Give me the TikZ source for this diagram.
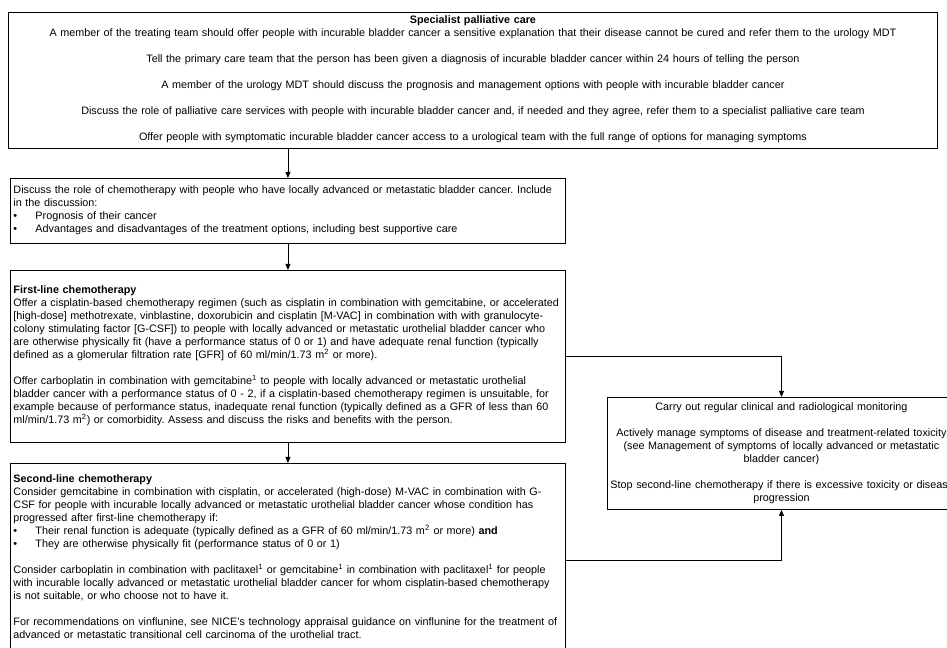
\documentclass[tikz,border=0pt]{standalone}
\usepackage{fontspec}
\setmainfont{Liberation Sans}
\usetikzlibrary{arrows.meta}
\newcommand{\bul}{\makebox[16.5pt][l]{\textbullet}}
\newcommand{\sqm}{m\textsuperscript{2}}
\begin{document}
\begin{tikzpicture}[x=0.75pt, y=-0.75pt, >={Triangle[length=4.5pt,width=3.75pt]},
  box/.style={draw, line width=0.7pt, anchor=north west, inner xsep=2.25pt, inner ysep=0pt,
    font=\fontsize{8.1pt}{9.75pt}\selectfont\frenchspacing},
  leftbox/.style={box, text width=411.75pt, align=left},
  midbox/.style={box, align=center}]
\useasboundingbox (0,0) rectangle (947,648);
\node[midbox, text width=692.25pt, text height=8.25pt, text depth=93.75pt] (palliative) at (8,12) {\textbf{Specialist palliative care}\\
A member of the treating team should offer people with incurable bladder cancer a sensitive explanation that their disease cannot be cured and refer them to the urology MDT\\[9.75pt]
Tell the primary care team that the person has been given a diagnosis of incurable bladder cancer within 24 hours of telling the person\\[9.75pt]
A member of the urology MDT should discuss the prognosis and management options with people with incurable bladder cancer\\[9.75pt]
Discuss the role of palliative care services with people with incurable bladder cancer and, if needed and they agree, refer them to a specialist palliative care team\\[9.75pt]
Offer people with symptomatic incurable bladder cancer access to a urological team with the full range of options for managing symptoms};
\node[leftbox, text height=11.25pt, text depth=37.5pt] (discuss) at (10,178) {Discuss the role of chemotherapy with people who have locally advanced or metastatic bladder cancer. Include\\
in the discussion:\\
\bul Prognosis of their cancer\\
\bul Advantages and disadvantages of the treatment options, including best supportive care};
\node[leftbox, text height=17.25pt, text depth=111.75pt] (firstline) at (10,270) {\textbf{First-line chemotherapy}\\
\mbox{Offer a cisplatin-based chemotherapy regimen (such as cisplatin in combination with gemcitabine, or accelerated}\\
\mbox{[high-dose] methotrexate, vinblastine, doxorubicin and cisplatin [M-VAC] in combination with with granulocyte-}\\
\mbox{colony stimulating factor [G-CSF]) to people with locally advanced or metastatic urothelial bladder cancer who}\\
\mbox{are otherwise physically fit (have a performance status of 0 or 1) and have adequate renal function (typically}\\
defined as a glomerular filtration rate [GFR] of 60 ml/min/1.73 \sqm{} or more).\\[9.75pt]
\mbox{Offer carboplatin in combination with gemcitabine\textsuperscript{1} to people with locally advanced or metastatic urothelial}\\
\mbox{bladder cancer with a performance status of 0 - 2, if a cisplatin-based chemotherapy regimen is unsuitable, for}\\
\mbox{example because of performance status, inadequate renal function (typically defined as a GFR of less than 60}\\
ml/min/1.73 \sqm) or comorbidity. Assess and discuss the risks and benefits with the person.};
\node[leftbox, text height=14.25pt, text depth=131.25pt] (secondline) at (10,463) {\textbf{Second-line chemotherapy}\\
\mbox{Consider gemcitabine in combination with cisplatin, or accelerated (high-dose) M-VAC in combination with G-}\\
\mbox{CSF for people with incurable locally advanced or metastatic urothelial bladder cancer whose condition has}\\
progressed after first-line chemotherapy if:\\
\bul Their renal function is adequate (typically defined as a GFR of 60 ml/min/1.73 \sqm{} or more) \textbf{and}\\
\bul They are otherwise physically fit (performance status of 0 or 1)\\[9.75pt]
\mbox{Consider carboplatin in combination with paclitaxel\textsuperscript{1} or gemcitabine\textsuperscript{1} in combination with paclitaxel\textsuperscript{1} for people}\\
\mbox{with incurable locally advanced or metastatic urothelial bladder cancer for whom cisplatin-based chemotherapy}\\
is not suitable, or who choose not to have it.\\[9.75pt]
\mbox{For recommendations on vinflunine, see NICE's technology appraisal guidance on vinflunine for the treatment of}\\
advanced or metastatic transitional cell carcinoma of the urothelial tract.};
\node[midbox, text width=256.5pt, text height=9.75pt, text depth=74.25pt] (monitor) at (607,397) {Carry out regular clinical and radiological monitoring\\[9.75pt]
\mbox{Actively manage symptoms of disease and treatment-related toxicity}\\
(see Management of symptoms of locally advanced or metastatic\\
bladder cancer)\\[9.75pt]
\mbox{Stop second-line chemotherapy if there is excessive toxicity or disease}\\
progression};
\draw[->, line width=0.7pt] (palliative.south -| discuss.north) -- (discuss.north);
\draw[->, line width=0.7pt] (discuss) -- (firstline);
\draw[->, line width=0.7pt] (firstline) -- (secondline);
\draw[->, line width=0.7pt] (firstline.east) -| (monitor.north);
\draw[->, line width=0.7pt] (secondline.east) -| (monitor.south);
\end{tikzpicture}
\end{document}
